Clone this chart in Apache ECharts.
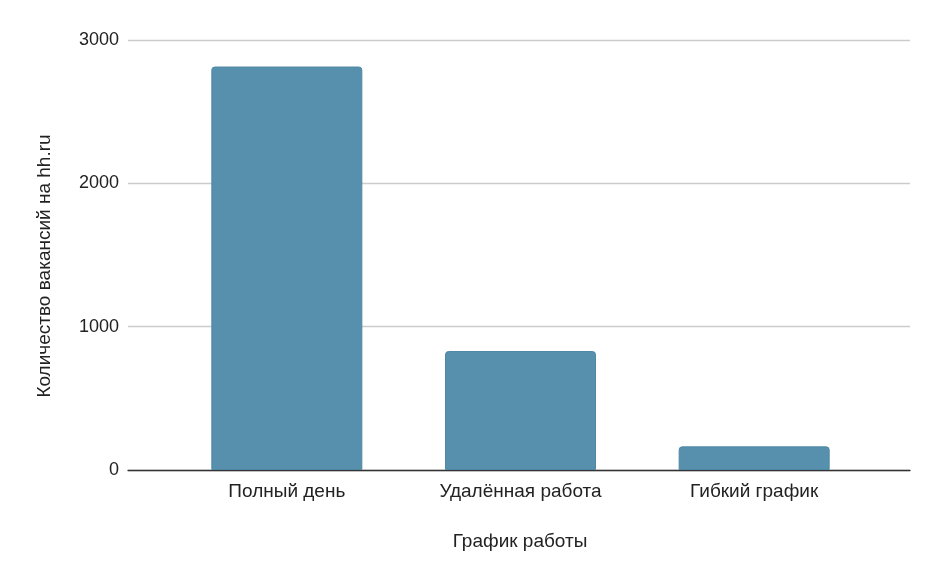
<!DOCTYPE html>
<html><head><meta charset="utf-8">
<script src="https://cdn.jsdelivr.net/npm/echarts@6/dist/echarts.min.js"></script>
<style>html,body{margin:0;padding:0;background:#fff}#c{width:936px;height:581px}</style>
</head><body><div id="c"></div>
<script>
const categories = ['Полный день', 'Удалённая работа', 'Гибкий график'];
const vacancies = [2815, 830, 165];
const yTicks = [0, 1000, 2000, 3000];
const xTitle = 'График работы';
const yTitle = 'Количество вакансий на hh.ru';

const font = 'Liberation Sans, Arial, sans-serif';
const chart = echarts.init(document.getElementById('c'));
chart.setOption({
  animation: false,
  textStyle: { fontFamily: font },
  grid: [
    { left: 128, right: 26, top: 40, bottom: 111 },
    { left: 170, right: 65, top: 40, bottom: 111 }
  ],
  xAxis: [
    { gridIndex: 0, type: 'value', min: 0, max: 1, show: true,
      axisLine: { show: true, onZero: false, lineStyle: { color: '#333', width: 1.3 } },
      axisTick: { show: false }, axisLabel: { show: false }, splitLine: { show: false } },
    { gridIndex: 1, type: 'category', data: categories,
      axisLine: { show: false }, axisTick: { show: false },
      axisLabel: { fontSize: 19, color: '#222', margin: 12, fontFamily: font } }
  ],
  yAxis: [
    { gridIndex: 0, type: 'value', min: yTicks[0], max: yTicks[yTicks.length - 1], interval: 1000,
      axisLine: { show: false }, axisTick: { show: false },
      axisLabel: { fontSize: 18, color: '#222', margin: 9, fontFamily: font, formatter: v => String(v) },
      splitLine: { lineStyle: { color: '#cccccc', width: 1.3 } } },
    { gridIndex: 1, type: 'value', min: yTicks[0], max: yTicks[yTicks.length - 1], show: false }
  ],
  graphic: [
    { type: 'text', x: 520, y: 542, style: { text: xTitle, fontSize: 19, fill: '#222', fontFamily: font, align: 'center', verticalAlign: 'middle' } },
    { type: 'text', x: 45, y: 266, rotation: Math.PI / 2, style: { text: yTitle, fontSize: 19, fill: '#222', fontFamily: font, align: 'center', verticalAlign: 'middle' } }
  ],
  series: [{
    type: 'bar', xAxisIndex: 1, yAxisIndex: 1, data: vacancies, barWidth: 151,
    itemStyle: { color: '#5790ad', borderColor: '#4f88a5', borderWidth: 1, borderRadius: [3, 3, 0, 0] }
  }]
});
</script></body></html>
